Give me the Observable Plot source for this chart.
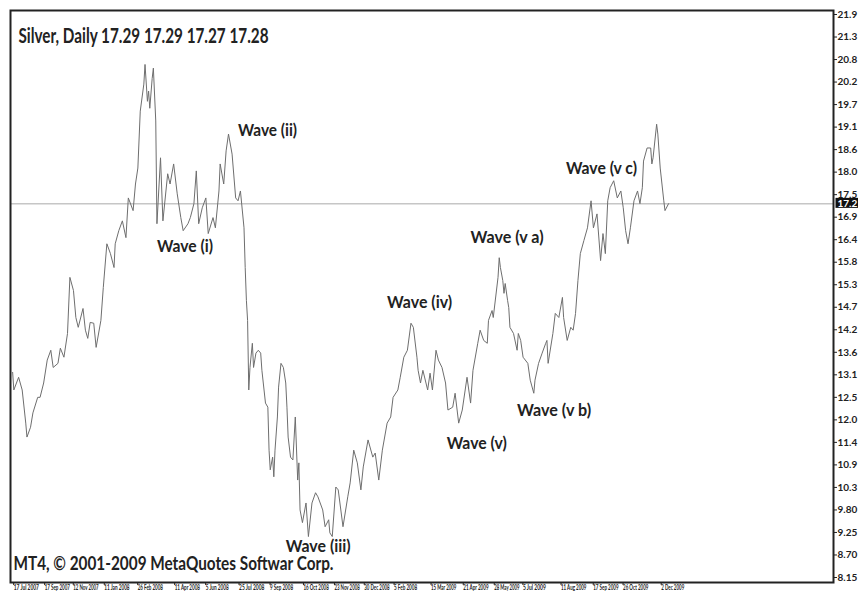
<!DOCTYPE html>
<html>
<head>
<meta charset="utf-8">
<script src="https://cdn.jsdelivr.net/npm/d3@7"></script>
<script src="https://cdn.jsdelivr.net/npm/@observablehq/plot@0.6"></script>
<style>
html, body { margin: 0; padding: 0; background: #fff; }
#chart svg { display: block; }
</style>
</head>
<body>
<div id="chart"></div>
<script>
// ---------- data ----------
const symbol = "Silver";
const timeframe = "Daily";
const ohlc = [17.29, 17.29, 17.27, 17.28];
const lastPrice = 17.28;
const lastPriceLabel = "17.2";
const copyright = "MT4, \u00a9 2001-2009 MetaQuotes Softwar Corp.";

// bar index (trading-day count from 17 Jul 2007) and closing price
const bars = [
  1,2,6,9,12,13,16,18,22,24,27,30,33,35,39,41,44,47,49,52,
  54,56,60,62,64,66,69,71,75,77,80,83,86,87,90,93,96,98,102,104,
  106,108,111,112,114,115,116,118,119,121,122,125,127,131,133,136,139,142,144,148,
  150,153,155,157,160,163,165,169,171,174,175,178,180,182,185,188,190,192,195,196,
  197,198,199,200,202,203,205,207,209,210,213,215,216,217,219,220,221,223,224,226,
  228,230,231,232,234,236,238,240,241,242,244,247,249,252,255,257,261,263,266,267,
  269,272,274,278,282,284,287,290,293,295,299,303,305,308,311,315,318,320,324,326,
  329,332,335,337,340,341,343,345,349,351,353,356,358,361,364,366,370,372,375,378,
  382,385,387,391,393,396,399,400,403,404,408,409,410,412,413,414,416,417,418,421,
  424,425,427,429,433,435,438,439,442,445,448,449,450,454,456,459,462,463,466,469,
  471,473,475,477,480,483,486,488,491,494,496,498,500,502,505,508,511,513,515,517,
  519,522,525,527,529,530,533,536,537,538,541,542,544,547,548,551
];
const prices = [
  13.16,12.73,13.04,12.73,11.92,11.58,11.82,12.17,12.55,12.55,12.90,13.46,13.70,13.28,13.38,13.75,13.53,14.11,15.48,15.16,
  14.50,14.26,14.72,14.19,13.99,14.38,14.36,13.77,14.43,15.23,16.30,16.06,15.72,16.30,16.62,16.86,16.45,17.42,17.11,17.76,
  18.15,19.54,20.20,20.68,19.78,20.03,19.61,20.34,20.59,19.30,16.79,18.40,16.86,18.01,17.76,18.25,17.52,16.94,16.62,16.79,
  16.94,17.28,18.08,16.79,17.18,17.42,16.55,16.94,16.69,17.59,18.25,17.76,18.57,18.98,18.49,17.42,17.35,17.59,16.69,15.72,
  14.92,14.43,12.73,13.28,13.87,13.28,13.63,13.70,13.63,13.21,12.41,12.31,11.26,10.78,11.09,10.61,11.26,12.07,12.80,13.38,
  13.28,12.90,12.31,11.58,11.09,11.02,12.07,10.53,10.95,9.80,9.49,9.97,9.15,9.97,10.22,10.12,9.80,9.39,9.56,9.24,
  9.15,10.36,10.29,9.39,10.12,10.46,11.26,10.95,10.29,10.85,11.51,11.09,11.19,10.53,11.26,11.92,12.07,12.55,12.73,13.04,
  13.53,13.70,14.36,14.26,13.53,13.21,12.90,13.21,12.73,13.14,12.73,13.70,13.46,13.28,12.90,12.24,12.31,12.65,11.92,12.24,
  13.04,12.41,13.21,13.87,14.19,13.94,13.87,14.43,14.67,14.50,15.48,15.96,15.72,15.40,15.09,15.33,14.92,14.74,14.26,14.11,
  13.70,14.11,13.94,13.53,13.38,12.97,12.65,12.97,13.38,13.63,13.87,13.94,13.38,14.11,14.60,14.50,14.99,14.50,13.94,14.26,
  14.19,14.60,15.40,16.06,16.38,16.69,17.35,16.69,17.03,15.89,16.55,16.06,17.35,17.67,17.84,17.42,17.59,17.18,16.62,16.30,
  16.69,17.35,17.59,17.28,17.67,18.32,18.64,18.64,18.25,18.40,19.22,18.98,18.15,17.35,17.11,17.28
];

const yTickValues = [8.15,8.70,9.25,9.80,10.35,10.90,11.45,12.00,12.55,13.10,13.65,14.20,14.75,
  15.30,15.85,16.40,16.95,17.50,18.05,18.60,19.15,19.70,20.25,20.80,21.35,21.90];
const yTickLabels = ["8.15","8.70","9.25","9.80","10.3","10.9","11.4","12.0","12.5","13.1","13.6","14.2","14.7",
  "15.3","15.8","16.4","16.9","17.5","18.0","18.6","19.1","19.7","20.2","20.8","21.3","21.9"];

const xTickBars = [1,27,51,77,105,136,162,190,216,244,270,295,320,351,378,404,428,460,487,512,544];
const xTickLabels = ["17 Jul 2007","17 Sep 2007","12 Nov 2007","11 Jan 2008","26 Feb 2008","11 Apr 2008",
  "5 Jun 2008","25 Jul 2008","9 Sep 2008","16 Oct 2008","23 Nov 2008","30 Dec 2008","5 Feb 2008",
  "15 Mar 2009","21 Apr 2009","28 May 2009","5 Jul 2009","11 Aug 2009","17 Sep 2009","26 Oct 2009","2 Dec 2009"];

const waveLabels = ["Wave (i)","Wave (ii)","Wave (iii)","Wave (iv)","Wave (v)","Wave (v a)","Wave (v b)","Wave (v c)"];
const waveBars   = [122, 190, 230, 315, 365, 385, 424, 465];
const wavePrices = [16.23, 19.07, 8.90, 14.87, 11.42, 16.45, 12.23, 18.14];

// ---------- style ----------
const FONT = "Lato, 'Open Sans', sans-serif";
const waveWidths = {"Wave (i)":56,"Wave (ii)":59,"Wave (iii)":65,"Wave (iv)":65,"Wave (v)":60,"Wave (v a)":73,"Wave (v b)":74,"Wave (v c)":71};

// ---------- build ----------
const series = bars.map((b, i) => ({bar: b, price: prices[i]}));
const waves = waveLabels.map((t, i) => ({text: t, bar: waveBars[i], price: wavePrices[i]}));
const title = `${symbol}, ${timeframe} ${ohlc.map(v => v.toFixed(2)).join(" ")}`;

const chart = Plot.plot({
  width: 858,
  height: 596,
  marginTop: 10,
  marginBottom: 14,
  marginLeft: 10,
  marginRight: 25,
  style: {fontFamily: FONT, background: "#fff", overflow: "visible"},
  x: {domain: [-0.8, 689.3], axis: null},
  y: {domain: [8.15, 21.9], insetTop: 4, insetBottom: 5, axis: null},
  marks: [
    Plot.ruleY([lastPrice], {stroke: "#c6c6c6", strokeWidth: 1.5}),
    Plot.line(series, {x: "bar", y: "price", stroke: "#6e6e6e", strokeWidth: 1}),
    Plot.text(waves, {x: "bar", y: "price", text: "text", textAnchor: "start", fontSize: 17,
      fontWeight: "bold", fill: "#222"}),
    Plot.axisY({anchor: "right", label: null, ticks: yTickValues,
      tickFormat: d => yTickLabels[yTickValues.indexOf(d)],
      tickSize: 3, tickPadding: 1, fontSize: 10, fontWeight: "bold", color: "#222"}),
    Plot.axisX({anchor: "bottom", label: null, ticks: xTickBars,
      tickFormat: d => xTickLabels[xTickBars.indexOf(d)],
      tickSize: 3, tickPadding: 0, textAnchor: "start", dx: 1, fontSize: 7, fontWeight: "bold", color: "#222"}),
    Plot.text([lastPriceLabel], {y: () => lastPrice, frameAnchor: "right", text: d => d, textAnchor: "start",
      dx: 4, fontSize: 10, fontWeight: "bold", fill: "#fff"}),
    Plot.text([title], {frameAnchor: "top-left", text: d => d, textAnchor: "start", dx: 8, dy: 18,
      fontSize: 20, fontWeight: "bold", fill: "#222"}),
    Plot.text([copyright], {frameAnchor: "bottom-left", text: d => d, textAnchor: "start", dx: 3, dy: -13,
      fontSize: 18, fontWeight: "bold", fill: "#222"}),
    Plot.frame({stroke: "#222", strokeWidth: 2})
  ]
});

document.getElementById("chart").append(chart);

// ---------- text fitting (Calibri-like condensed look) ----------
function fit(node, w) {
  node.setAttribute("textLength", w);
  node.setAttribute("lengthAdjust", "spacingAndGlyphs");
}
const lastNodes = [];
d3.select(chart).selectAll("text").each(function() {
  const t = this.textContent;
  if (t === title) fit(this, 250);
  else if (t === copyright) fit(this, 320);
  else if (waveWidths[t]) fit(this, waveWidths[t]);
  else if (xTickLabels.includes(t)) fit(this, t.length * 2.3);
  else if (t === lastPriceLabel) lastNodes.push(this);
});
// black box behind the current-price label
lastNodes.forEach(node => {
  const bb = node.getBBox();
  const r = document.createElementNS("http://www.w3.org/2000/svg", "rect");
  r.setAttribute("x", bb.x - 2);
  r.setAttribute("y", bb.y + 1);
  r.setAttribute("width", bb.width + 6);
  r.setAttribute("height", bb.height - 2);
  r.setAttribute("fill", "#111");
  const tr = node.getAttribute("transform");
  if (tr) r.setAttribute("transform", tr);
  node.parentNode.insertBefore(r, node);
});
</script>
</body>
</html>
